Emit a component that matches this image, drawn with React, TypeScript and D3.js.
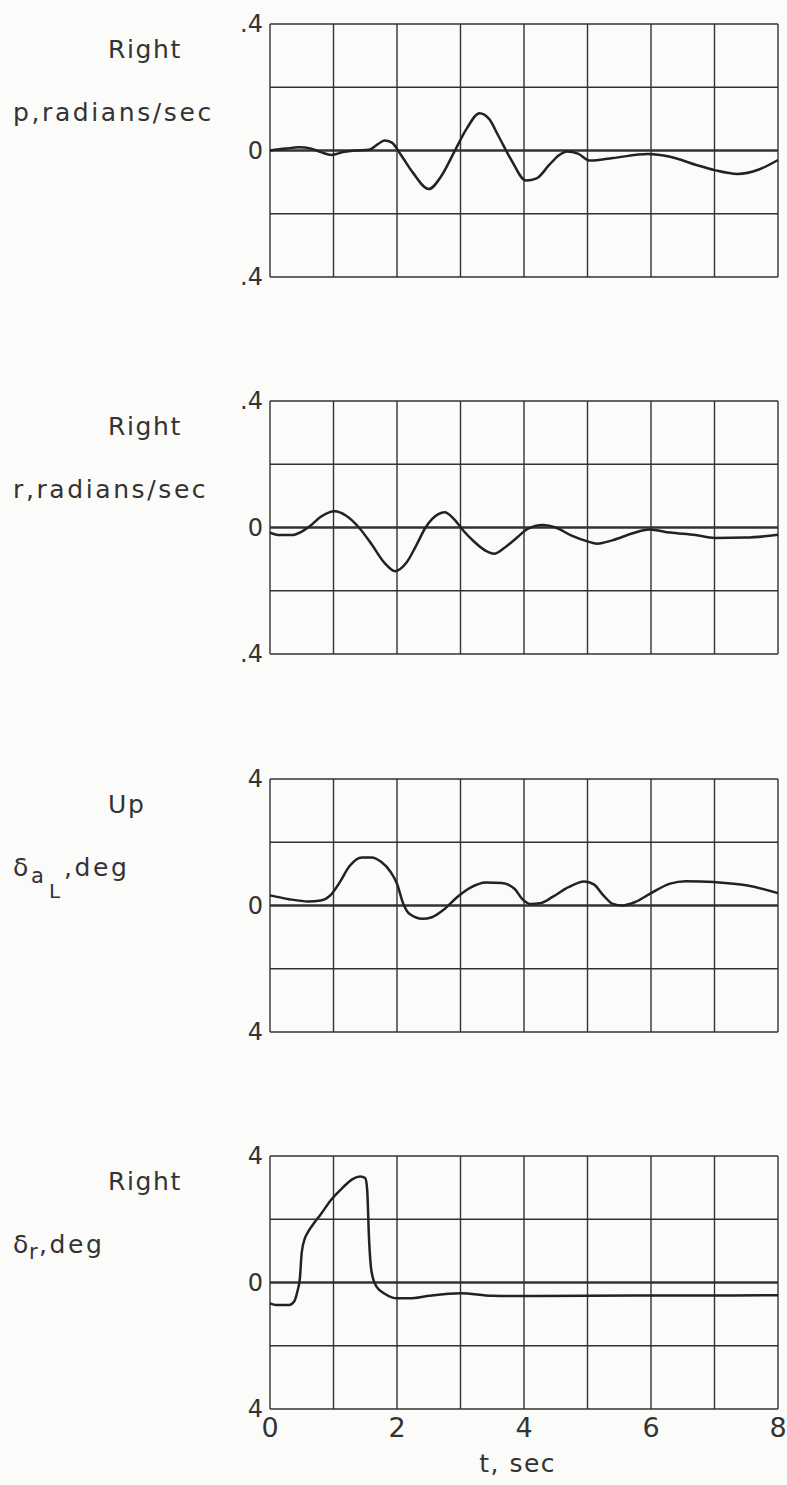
import React from "react";
import * as d3 from "d3";

// ---- data ----
const timeTicks = [0, 2, 4, 6, 8];

const pTime = [0, 0.25, 0.45, 0.65, 0.8, 0.97, 1.15, 1.35, 1.55, 1.7, 1.8, 1.92, 2.05, 2.25, 2.5, 2.7, 2.9, 3.1, 3.3, 3.45, 3.6, 3.8, 4.03, 4.2, 4.4, 4.55, 4.68, 4.85, 5.04, 5.4, 5.95, 6.3, 6.7, 7.0, 7.36, 7.7, 8.0];
const pRate = [0, 0.006, 0.01, 0.006, -0.005, -0.014, -0.005, 0, 0.002, 0.02, 0.032, 0.025, -0.01, -0.07, -0.122, -0.08, -0.005, 0.07, 0.118, 0.1, 0.045, -0.03, -0.095, -0.088, -0.045, -0.015, -0.003, -0.01, -0.032, -0.024, -0.011, -0.02, -0.045, -0.062, -0.074, -0.06, -0.03];

const rTime = [0, 0.15, 0.35, 0.5, 0.62, 0.8, 1.02, 1.2, 1.4, 1.6, 1.8, 1.97, 2.15, 2.3, 2.45, 2.65, 2.75, 2.9, 3.05, 3.2, 3.4, 3.53, 3.7, 3.9, 4.05, 4.3, 4.5, 4.75, 5.0, 5.15, 5.4, 5.7, 5.97, 6.3, 6.7, 7.0, 7.5, 8.0];
const rRate = [-0.016, -0.024, -0.024, -0.013, 0.003, 0.034, 0.051, 0.037, 0, -0.053, -0.111, -0.138, -0.111, -0.058, 0, 0.042, 0.048, 0.026, -0.011, -0.042, -0.074, -0.083, -0.063, -0.03, -0.005, 0.008, 0, -0.026, -0.044, -0.051, -0.04, -0.019, -0.006, -0.016, -0.024, -0.033, -0.032, -0.023];

const aTime = [0, 0.3, 0.6, 0.8, 0.95, 1.1, 1.25, 1.45, 1.6, 1.75, 1.9, 2.0, 2.1, 2.2, 2.4, 2.55, 2.75, 2.95, 3.15, 3.4, 3.65, 3.85, 3.97, 4.1, 4.25, 4.45, 4.7, 4.95, 5.1, 5.25, 5.4, 5.55, 5.75, 6.0, 6.3, 6.55, 7.0, 7.5, 8.0];
const aDefl = [0.32, 0.2, 0.13, 0.16, 0.32, 0.74, 1.24, 1.52, 1.52, 1.38, 1.06, 0.69, 0.05, -0.27, -0.42, -0.37, -0.11, 0.27, 0.56, 0.73, 0.71, 0.53, 0.21, 0.05, 0.07, 0.27, 0.58, 0.76, 0.67, 0.32, 0.05, 0, 0.11, 0.39, 0.69, 0.77, 0.74, 0.64, 0.39];

const dTime = [0, 0.1, 0.3, 0.38, 0.43, 0.47, 0.5, 0.55, 0.6, 0.68, 0.8, 0.97, 1.15, 1.3, 1.42, 1.5, 1.53, 1.56, 1.6, 1.68, 1.82, 2.0, 2.2, 2.5, 3.0, 3.5, 4.0, 5.0, 6.0, 7.0, 8.0];
const rudDefl = [-0.66, -0.71, -0.71, -0.6, -0.29, 0.12, 0.95, 1.4, 1.6, 1.84, 2.16, 2.63, 3.01, 3.27, 3.35, 3.3, 2.94, 1.37, 0.33, -0.14, -0.37, -0.5, -0.5, -0.42, -0.34, -0.42, -0.43, -0.42, -0.41, -0.41, -0.4];

const rateTickLabels = [".4", "0", ".4"];
const deflTickLabels = ["4", "0", "4"];

// ---- layout ----
const W = 787;
const H = 1485;
const LEFT = 270;
const PW = 508;
const PH = 253;
const TOPS = [24, 401, 779, 1156];
const INK = "#333";
const FONT = "'DejaVu Sans', sans-serif";

type Panel = {
  t: number[];
  v: number[];
  max: number;
  ticks: string[];
  top: string;
  label: React.ReactNode;
};

const panels: Panel[] = [
  {
    t: pTime, v: pRate, max: 0.4, ticks: rateTickLabels, top: "Right",
    label: <tspan>p,radians/sec</tspan>,
  },
  {
    t: rTime, v: rRate, max: 0.4, ticks: rateTickLabels, top: "Right",
    label: <tspan>r,radians/sec</tspan>,
  },
  {
    t: aTime, v: aDefl, max: 4, ticks: deflTickLabels, top: "Up",
    label: (
      <>
        <tspan>δ</tspan>
        <tspan x={31} dy={7} fontSize={21} letterSpacing={0}>a</tspan>
        <tspan x={49} dy={15} fontSize={20} letterSpacing={0}>L</tspan>
        <tspan x={64} dy={-22}>,deg</tspan>
      </>
    ),
  },
  {
    t: dTime, v: rudDefl, max: 4, ticks: deflTickLabels, top: "Right",
    label: (
      <>
        <tspan>δ</tspan>
        <tspan x={29} dy={6} fontSize={21} letterSpacing={0}>r</tspan>
        <tspan x={39} dy={-6}>,deg</tspan>
      </>
    ),
  },
];

function PanelView({ p, top, last }: { p: Panel; top: number; last: boolean }) {
  const x = d3.scaleLinear().domain([0, 8]).range([LEFT, LEFT + PW]);
  const y = d3.scaleLinear().domain([-p.max, p.max]).range([top + PH, top]);
  const yTicks = y.ticks(4);
  const xGrid = x.ticks(8);
  const line = d3
    .line<number>()
    .x((_, i) => x(p.t[i]))
    .y((d) => y(d))
    .curve(d3.curveMonotoneX);
  const labelVals = [p.max, 0, -p.max];
  return (
    <g>
      {yTicks.map((v) => (
        <line
          key={"h" + v}
          x1={x(0)}
          x2={x(8)}
          y1={y(v)}
          y2={y(v)}
          stroke={INK}
          strokeWidth={v === 0 ? 2.4 : 1.4}
        />
      ))}
      {xGrid.map((v) => (
        <line
          key={"v" + v}
          x1={x(v)}
          x2={x(v)}
          y1={y(p.max)}
          y2={y(-p.max)}
          stroke={INK}
          strokeWidth={1.4}
        />
      ))}
      <path d={line(p.v) || ""} fill="none" stroke="#222" strokeWidth={2.5} strokeLinejoin="round" />
      {labelVals.map((v, i) => (
        <text
          key={"yl" + i}
          x={LEFT - 7}
          y={y(v)}
          textAnchor="end"
          dominantBaseline="central"
          fontSize={24}
          fill={INK}
          fontFamily={FONT}
        >
          {p.ticks[i]}
        </text>
      ))}
      <text x={108} y={top + 34} fontSize={25} letterSpacing={1.6} fill={INK} fontFamily={FONT}>
        {p.top}
      </text>
      <text x={13} y={top + 97} fontSize={25} letterSpacing={2.6} fill={INK} fontFamily={FONT}>
        {p.label}
      </text>
      {last &&
        timeTicks.map((v) => (
          <text
            key={"xt" + v}
            x={x(v)}
            y={top + PH + 28}
            textAnchor="middle"
            fontSize={27}
            fill={INK}
            fontFamily={FONT}
          >
            {v}
          </text>
        ))}
      {last && (
        <text x={x(3.9)} y={top + PH + 63} textAnchor="middle" fontSize={25} letterSpacing={1.5} fill={INK} fontFamily={FONT}>
          t, sec
        </text>
      )}
    </g>
  );
}

export default function App() {
  return (
    <svg
      width={W}
      height={H}
      viewBox={`0 0 ${W} ${H}`}
      style={{ position: "absolute", left: 0, top: 0, background: "#fbfbfa" }}
    >
      <rect x={0} y={0} width={W} height={H} fill="#fbfbfa" />
      {panels.map((p, i) => (
        <PanelView key={i} p={p} top={TOPS[i]} last={i === panels.length - 1} />
      ))}
    </svg>
  );
}
